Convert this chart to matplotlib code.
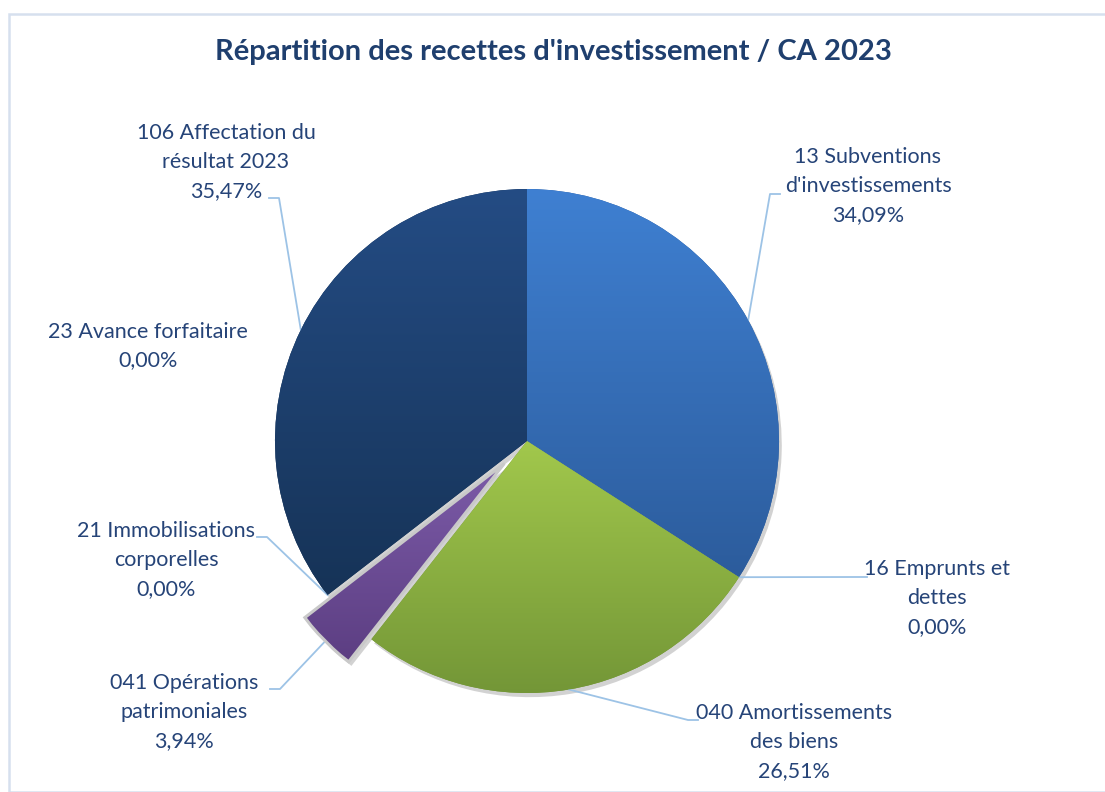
import numpy as np
import matplotlib.pyplot as plt
from matplotlib import patheffects as pe
from matplotlib.colors import LinearSegmentedColormap

plt.rcParams['font.family'] = ['Lato', 'DejaVu Sans']

# Données : recettes d'investissement, CA 2023 (en %)
postes = ["13 Subventions\nd'investissements", "16 Emprunts et\ndettes",
          "040 Amortissements\ndes biens", "041 Opérations\npatrimoniales",
          "21 Immobilisations\ncorporelles", "23 Avance forfaitaire",
          "106 Affectation du\nrésultat 2023"]
parts = [34.09, 0.00, 26.51, 3.94, 0.00, 0.00, 35.47]
eclate = [0, 0, 0, 0.127, 0, 0, 0]

# dégradés (haut, bas) pour chaque part
degrades = [("#3F80D2", "#2C5C9C"), ("#3F80D2", "#2C5C9C"),
            ("#A2C84C", "#739637"), ("#7C5BA8", "#5C3E82"),
            ("#7C5BA8", "#5C3E82"), ("#244C84", "#163357"),
            ("#244C84", "#163357")]

# position des étiquettes (px) et coude du trait de rappel
pos_etiq = [(868, 186), (937, 598), (794, 742), (184, 712),
            (166, 560), (148, 346), (226, 162)]
coude = [(770, 194), (857, 577), (688, 720), (280, 689),
         (267, 537), None, (279, 198)]

W, H = 1105, 792
CX, CY, R = 527, H - 441, 252
TXT = "#264478"
TRAIT = "#9DC3E6"

fig = plt.figure(figsize=(W / 100, H / 100), dpi=100)
ax = fig.add_axes([0, 0, 1, 1])

wedges, _ = ax.pie(parts, radius=R, center=(CX, CY), startangle=90,
                   counterclock=False, explode=[e * R for e in eclate],
                   colors=[c[1] for c in degrades], wedgeprops=dict(linewidth=0))
ax.set_xlim(0, W)
ax.set_ylim(0, H)
ax.set_aspect('equal')
ax.axis('off')

grad = np.linspace(0, 1, 256).reshape(-1, 1)
for w, (haut, bas), p in zip(wedges, degrades, parts):
    if p == 0:
        continue
    w.set_path_effects([pe.SimplePatchShadow(offset=(2, -3), shadow_rgbFace='#808080',
                                             alpha=0.35), pe.Normal()])
    v = w.get_path().vertices
    cmap = LinearSegmentedColormap.from_list("g", [haut, bas])
    im = ax.imshow(grad, cmap=cmap, aspect='auto', origin='upper',
                   extent=(v[:, 0].min(), v[:, 0].max(), v[:, 1].min(), v[:, 1].max()),
                   zorder=w.get_zorder() + 0.1)
    im.set_clip_path(w)

# contour clair de la part éclatée
for w, e in zip(wedges, eclate):
    if e > 0:
        ax.add_patch(plt.Polygon(w.get_path().vertices, closed=True, fill=False,
                                 edgecolor='#C9C9C9', linewidth=2.2, zorder=3))

ax.set_xlim(0, W)
ax.set_ylim(0, H)

# étiquettes et traits de rappel
for w, nom, p, (lx, ly), cd in zip(wedges, postes, parts, pos_etiq, coude):
    texte = f"{nom}\n{p:.2f}%".replace(".", ",")
    ax.text(lx, H - ly, texte, ha='center', va='center', fontsize=15.5,
            color=TXT, linespacing=1.55, zorder=6)
    if cd is None:
        continue
    # point d'attache sur le bord de la part (milieu de l'arc)
    a = np.deg2rad((w.theta1 + w.theta2) / 2)
    bx = w.center[0] + R * np.cos(a)
    by = w.center[1] + R * np.sin(a)
    # court segment horizontal vers l'étiquette
    sens = 1 if cd[0] < lx else -1
    ax.plot([bx, cd[0], cd[0] + sens * 10], [by, H - cd[1], H - cd[1]],
            color=TRAIT, linewidth=1.3, zorder=1)

fig.text(553 / W, 1 - 52 / H, "Répartition des recettes d'investissement / CA 2023",
         ha='center', va='center', fontsize=21, fontweight='bold', color="#1F3F6E")

# cadre du graphique
fig.add_artist(plt.Rectangle((9 / W, 0), 1.2, 1 - 14 / H, transform=fig.transFigure,
                             fill=False, edgecolor='#D6E0EE', linewidth=1.8))

fig.savefig("out.png", dpi=100)
